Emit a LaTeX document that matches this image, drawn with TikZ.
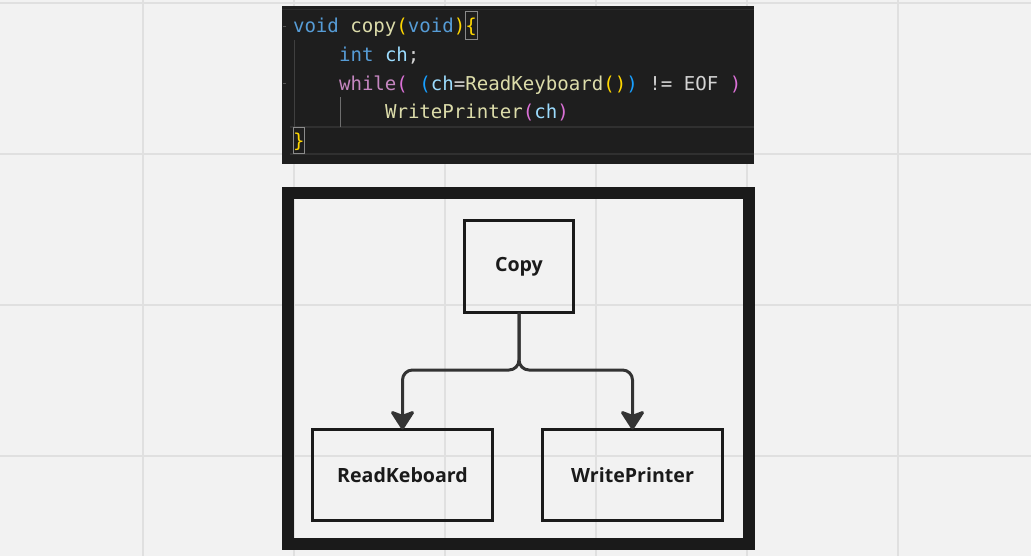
\documentclass[tikz,border=0pt]{standalone}
\usepackage{fontspec}
\usetikzlibrary{arrows.meta}
\setmainfont{Open Sans}
\newfontfamily\codefont{DejaVu Sans Mono}
\definecolor{bgc}{HTML}{F2F2F2}
\definecolor{gridc}{HTML}{E0E0E0}
\definecolor{frame}{HTML}{1A1A1A}
\definecolor{connc}{HTML}{333333}
\definecolor{codebg}{HTML}{1E1E1E}
\definecolor{kw}{HTML}{569CD6}
\definecolor{fn}{HTML}{DCDCAA}
\definecolor{br1}{HTML}{FFD700}
\definecolor{br2}{HTML}{DA70D6}
\definecolor{br3}{HTML}{179FFF}
\definecolor{var}{HTML}{9CDCFE}
\definecolor{ctl}{HTML}{C586C0}
\definecolor{plain}{HTML}{D4D4D4}
\tikzset{
  box/.style={draw=frame, line width=3pt, inner sep=0pt, outer sep=0pt,
    font=\fontsize{19.6}{23}\selectfont\bfseries, text=frame},
  conn/.style={draw=connc, line width=3pt, rounded corners=10pt,
    -{Stealth[length=21pt,width=27pt,inset=5pt,round]}},
  codeline/.style={anchor=base west, inner sep=0pt, outer sep=0pt,
    font=\codefont\fontsize{19.1}{23}\selectfont, text=plain},
  gridline/.style={draw=gridc, line width=1.2pt}
}
\begin{document}
\begin{tikzpicture}[x=1pt,y=-1pt]
\useasboundingbox (0,0) rectangle (1031,556);
\fill[bgc] (0,0) rectangle (1031,556);
% grid
\foreach \gx in {143,294,445,596,747,898} \draw[gridline] (\gx,0) -- (\gx,556);
\foreach \gy in {3,154,305,456} \draw[gridline] (0,\gy) -- (1031,\gy);
% code panel
\fill[codebg] (282,6) rectangle (754,164);
\draw[color={rgb,255:red,44;green,44;blue,44}, line width=1pt] (282,10) -- (754,10);
\draw[color={rgb,255:red,48;green,48;blue,48}, line width=1.5pt] (290,127) -- (754,127);
\draw[color={rgb,255:red,48;green,48;blue,48}, line width=1.5pt] (290,154) -- (754,154);
\draw[color={rgb,255:red,64;green,64;blue,64}, line width=1pt] (294,40) -- (294,127);
\draw[color={rgb,255:red,110;green,110;blue,110}, line width=1pt] (340,97) -- (340,127);
\draw[color={rgb,255:red,85;green,85;blue,85}, line width=1pt] (283,27) -- (286,27);
\draw[color={rgb,255:red,85;green,85;blue,85}, line width=1pt] (283,84) -- (286,84);
\draw[color={rgb,255:red,138;green,138;blue,138}, line width=1pt] (465,12) rectangle (477,40);
\draw[color={rgb,255:red,138;green,138;blue,138}, line width=1pt] (293,127.5) rectangle (304,153.5);
\node[codeline] (l1) at (293,33) {\textcolor{kw}{void} \textcolor{fn}{copy}\textcolor{br1}{(}\textcolor{kw}{void}\textcolor{br1}{)}\textcolor{br1}{\{}};
\node[codeline] (l2) at (339,62) {\textcolor{kw}{int} \textcolor{var}{ch};};
\node[codeline] (l3) at (339,91) {\textcolor{ctl}{while}\textcolor{br2}{(} \textcolor{br3}{(}\textcolor{var}{ch}=\textcolor{fn}{ReadKeyboard}\textcolor{br1}{()}\textcolor{br3}{)} != EOF \textcolor{br2}{)}};
\node[codeline] (l4) at (385,119) {\textcolor{fn}{WritePrinter}\textcolor{br2}{(}\textcolor{var}{ch}\textcolor{br2}{)}};
\node[codeline] (l5) at (293,148) {\textcolor{br1}{\}}};
% outer frame
\draw[frame, line width=12pt] (288,193) rectangle (748.5,543.5);
% boxes
\node[box, minimum width=109pt, minimum height=92pt] (copy) at (519,266.5) {\raisebox{-1.5pt}{Copy}};
\node[box, minimum width=180pt, minimum height=91pt] (rk) at (402.5,475) {ReadKeboard};
\node[box, minimum width=180pt, minimum height=91pt] (wp) at (632.5,475) {WritePrinter};
% connectors
\coordinate (j) at (519,370);
\draw[conn] (copy.south) -- (j) -- (j -| rk.north) -- (rk.north);
\draw[conn] (copy.south) -- (j) -- (j -| wp.north) -- (wp.north);
\end{tikzpicture}
\end{document}
